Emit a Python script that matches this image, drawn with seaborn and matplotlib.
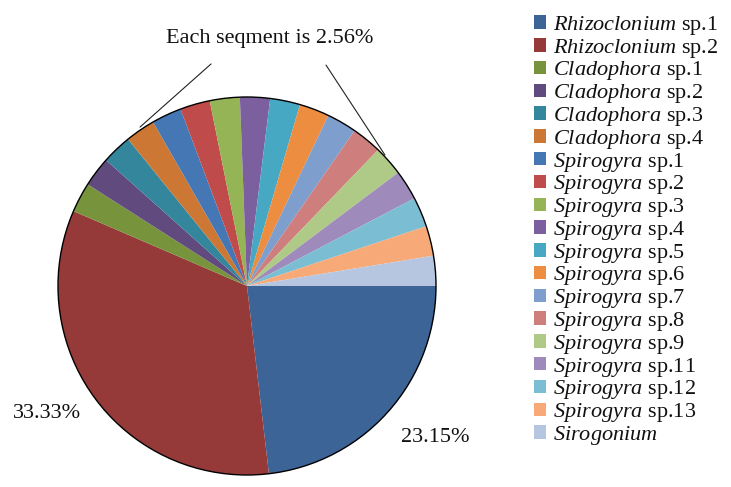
import matplotlib
matplotlib.use("Agg")
import matplotlib.pyplot as plt
import seaborn as sns

# =====================
# DATA
# =====================
genera = ['Rhizoclonium', 'Rhizoclonium', 'Cladophora', 'Cladophora', 'Cladophora', 'Cladophora',
          'Spirogyra', 'Spirogyra', 'Spirogyra', 'Spirogyra', 'Spirogyra', 'Spirogyra',
          'Spirogyra', 'Spirogyra', 'Spirogyra', 'Spirogyra', 'Spirogyra', 'Spirogyra', 'Sirogonium']
species = ['sp.1', 'sp.2', 'sp.1', 'sp.2', 'sp.3', 'sp.4',
           'sp.1', 'sp.2', 'sp.3', 'sp.4', 'sp.5', 'sp.6',
           'sp.7', 'sp.8', 'sp.9', 'sp.11', 'sp.12', 'sp.13', '']
shares = [23.15, 33.33] + [2.56] * 17

colors = ['#3C6496', '#953A39', '#77933C', '#614A7D', '#33869C', '#CC7834',
          '#4677B5', '#BF4C4A', '#94B455', '#7C5F9F', '#46A8C2', '#EC8D3F',
          '#7E9ECE', '#CE7E7C', '#AFC986', '#9E8BBC', '#7BBDD2', '#F7AA78', '#B6C6E0']

# =====================
# STYLE
# =====================
sns.set_theme(style="white")
plt.rcParams['font.family'] = ['Liberation Serif', 'DejaVu Serif']
plt.rcParams['mathtext.fontset'] = 'custom'
plt.rcParams['mathtext.rm'] = 'Liberation Serif'
plt.rcParams['mathtext.it'] = 'Liberation Serif:italic'
plt.rcParams['text.color'] = '#111111'

W, H = 731, 487
cx, cy, r = 247, 286, 189  # pie centre / radius in pixels
fs = 16

fig = plt.figure(figsize=(W / 100, H / 100), dpi=100)
ax = fig.add_axes([0, 0, 1, 1])

labels = []
for g, s in zip(genera, species):
    lab = r'$\it{' + g + '}$'
    if s:
        lab += ' ' + s
    labels.append(lab)

wedges, _ = ax.pie(shares, colors=colors, startangle=0, counterclock=False,
                   wedgeprops=dict(linewidth=0))
circle = plt.Circle((0, 0), 1, fill=False, edgecolor='black', linewidth=1.0)
ax.add_patch(circle)

ax.set_xlim(-cx / r, (W - cx) / r)
ax.set_ylim(-(H - cy) / r, cy / r)
ax.set_aspect('equal')
ax.axis('off')

# percentage labels
ax.text(-1.058, -0.672, f'{shares[1]:.2f}%', fontsize=fs, ha='center', va='center')
ax.text(0.995, -0.799, f'{shares[0]:.2f}%', fontsize=fs, ha='center', va='center')

# callout for the small segments
ax.text(0.122, 1.312, f'Each seqment is {shares[2]:.2f}%', fontsize=fs, ha='center', va='center')
ax.plot([-0.190, -0.566], [1.175, 0.841], color='#222222', linewidth=0.8)
ax.plot([0.418, 0.730], [1.169, 0.693], color='#222222', linewidth=0.8)

leg = ax.legend(wedges, labels, loc='upper left', bbox_to_anchor=(525 / W, 1 - 5 / H),
                bbox_transform=fig.transFigure, frameon=False, fontsize=fs,
                handlelength=0.55, handleheight=0.55, handletextpad=0.3,
                labelspacing=-0.01, borderaxespad=0)

fig.savefig('out.png', dpi=100)
